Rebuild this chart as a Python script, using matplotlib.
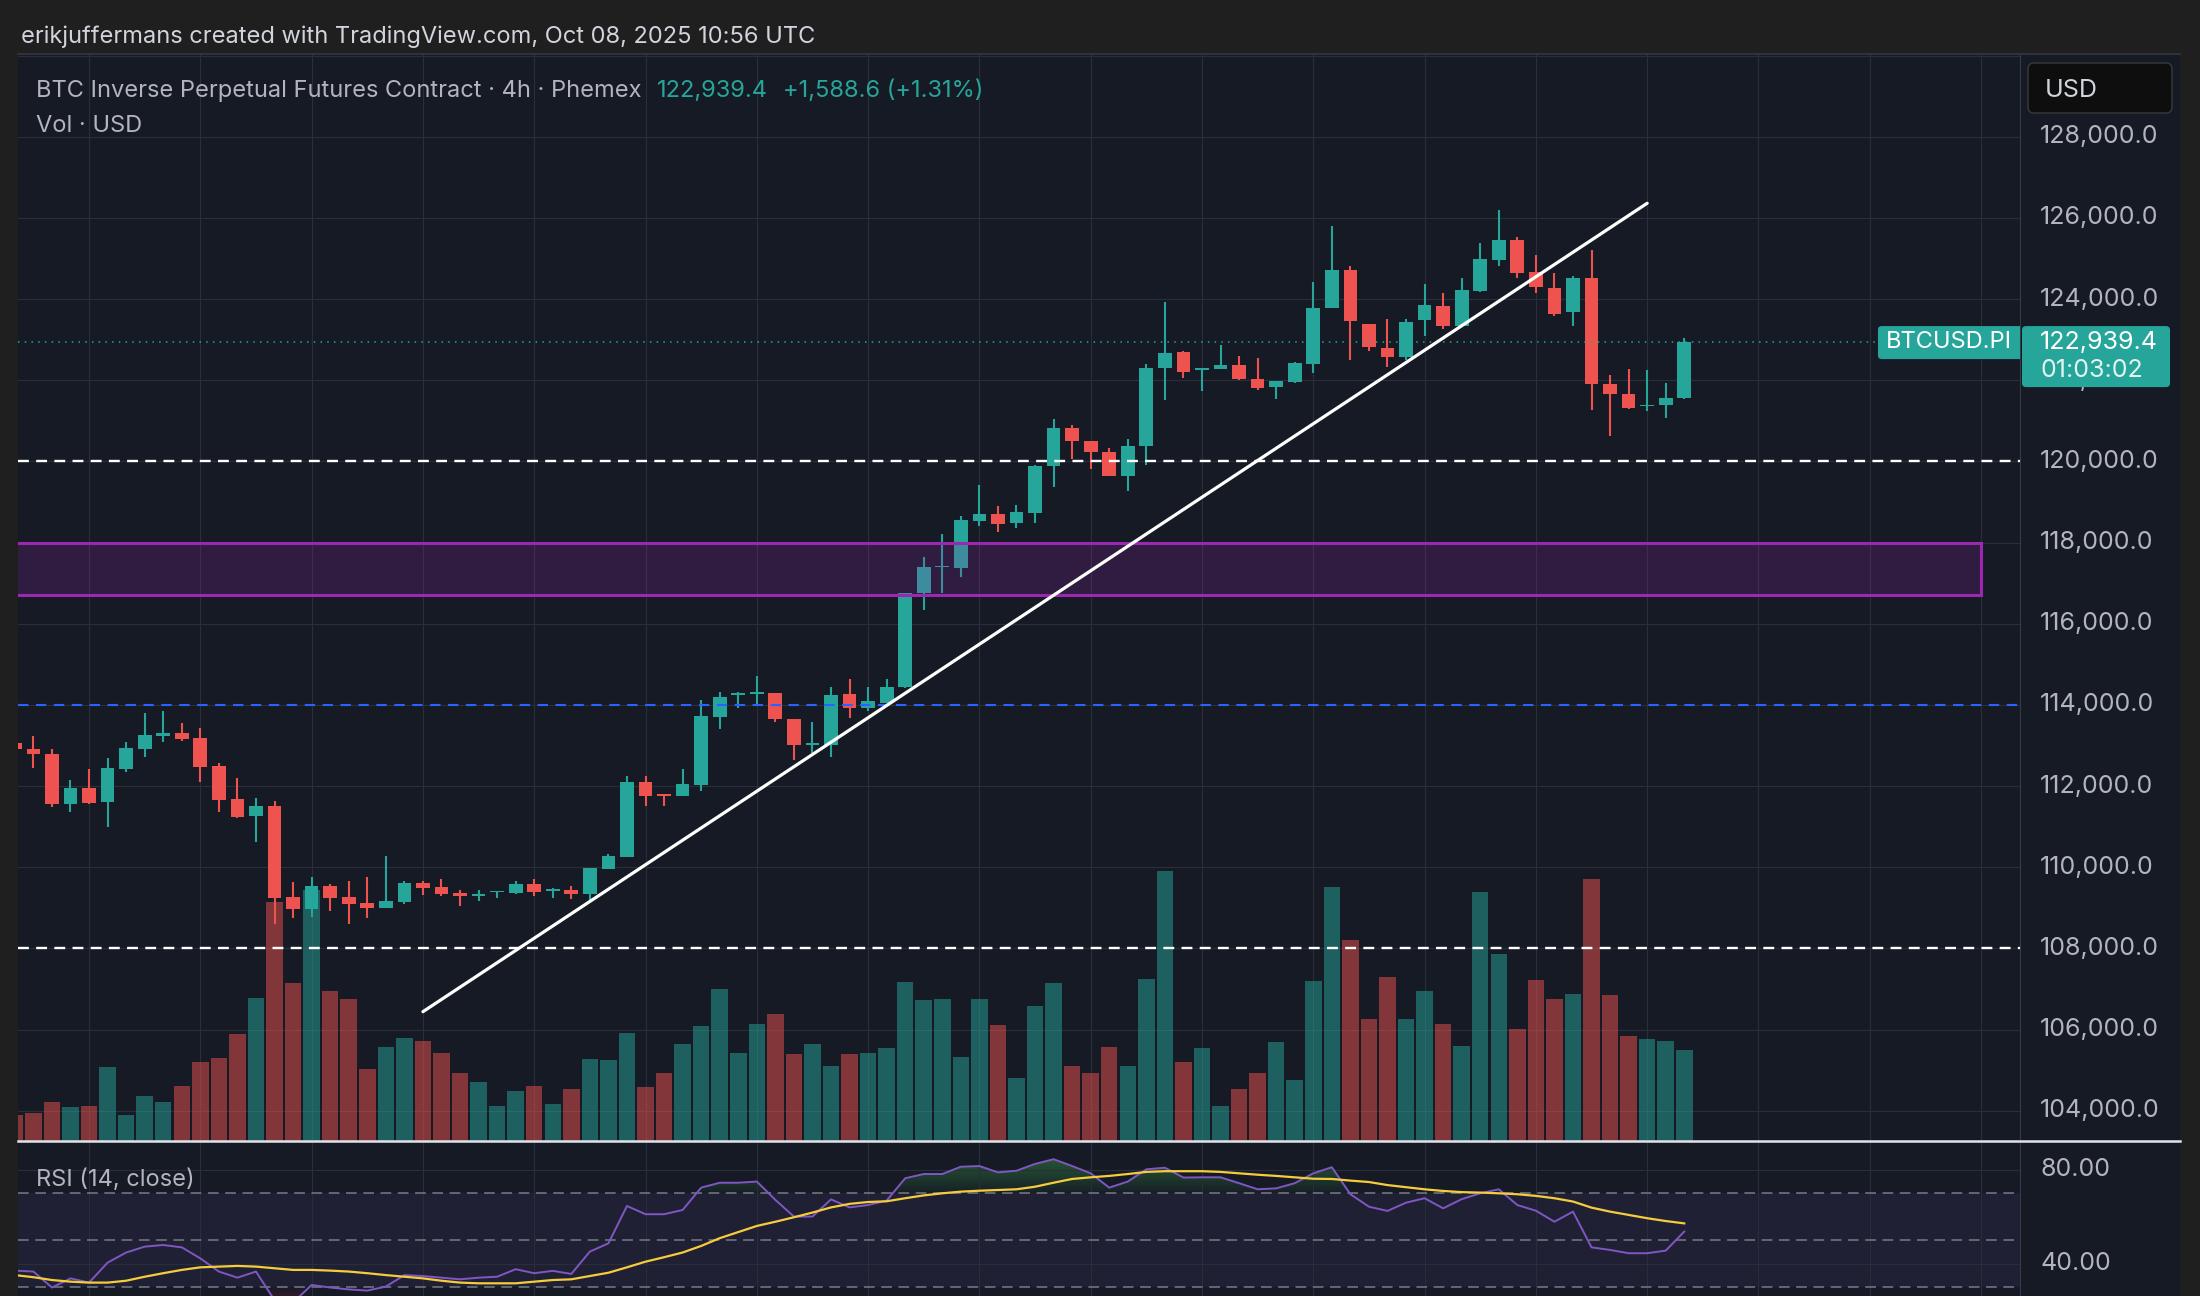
import matplotlib
matplotlib.use("Agg")
import matplotlib.pyplot as plt
from matplotlib.patches import Rectangle, FancyBboxPatch
from matplotlib.lines import Line2D
from matplotlib.transforms import Affine2D, Bbox, TransformedBbox
import numpy as np

plt.rcParams['font.family'] = ['Inter', 'DejaVu Sans']

# 4h candles (oldest first)
opens = [113050, 112920, 112800, 111570, 111940, 111600, 112430, 112920, 113230, 113310,
         113180, 112500, 111670, 111250, 111520, 109270, 108960, 109540, 109270, 109120,
         109000, 109150, 109600, 109510, 109360, 109280, 109380, 109360, 109580, 109410,
         109450, 109330, 109960, 110260, 112090, 111800, 111760, 112020, 113700, 114240,
         114260, 114290, 113660, 113020, 113020, 114270, 113930, 114050, 114430, 116750,
         117390, 117380, 118540, 118700, 118490, 118740, 119890, 120820, 120510, 120240,
         119630, 120370, 122300, 122700, 122250, 122280, 122370, 122020, 121840, 121950,
         122410, 123770, 124720, 123380, 122800, 122570, 123490, 123820, 123340, 124200,
         124970, 125460, 124660, 124270, 123670, 124520, 121900, 121670, 121360, 121390,
         121550]
highs = [113100, 113230, 112920, 112150, 112420, 112690, 113090, 113800, 113840, 113550,
         113430, 112560, 112200, 111700, 111640, 109630, 109760, 109590, 109670, 109760,
         110270, 109660, 109670, 109700, 109450, 109450, 109410, 109660, 109720, 109490,
         109530, 109980, 110330, 112250, 112240, 111800, 112410, 114130, 114320, 114320,
         114700, 114290, 113660, 113590, 114450, 114630, 114430, 114630, 116750, 117640,
         118210, 118660, 119420, 118900, 118930, 119920, 121050, 120900, 120510, 120330,
         120550, 122390, 123920, 122720, 122310, 122860, 122600, 122540, 121980, 122450,
         124430, 125810, 124810, 123380, 123500, 123520, 124370, 124160, 124520, 125380,
         126200, 125520, 125090, 124640, 124560, 125210, 122140, 122270, 122240, 121920,
         123050]
lows = [112850, 112450, 111490, 111370, 111560, 110980, 112340, 112720, 113090, 113110,
        112110, 111370, 111210, 110610, 108610, 108760, 108780, 108910, 108610, 108760,
        109000, 109090, 109310, 109290, 109050, 109170, 109230, 109330, 109290, 109230,
        109210, 109200, 109960, 110260, 111510, 111510, 111760, 111870, 113410, 113930,
        114000, 113570, 112630, 112820, 112710, 113670, 113860, 114050, 114410, 116350,
        116750, 117140, 118400, 118270, 118370, 118490, 119380, 120060, 119810, 119630,
        119260, 119920, 121510, 122050, 121730, 122280, 122000, 121760, 121530, 121940,
        122190, 123770, 122500, 122720, 122330, 122510, 123090, 123270, 123340, 124180,
        124810, 124530, 124140, 123570, 123340, 121260, 120620, 121280, 121240, 121080,
        121530]
closes = [112920, 112780, 111570, 111940, 111590, 112450, 112940, 113270, 113310, 113170,
          112470, 111650, 111240, 111520, 109250, 108960, 109540, 109250, 109100, 109000,
          109170, 109610, 109490, 109350, 109290, 109350, 109410, 109580, 109400, 109470,
          109330, 109980, 110280, 112090, 111760, 111760, 112040, 113730, 114190, 114290,
          114310, 113640, 113000, 113070, 114240, 113930, 114090, 114450, 116750, 117390,
          117400, 118560, 118700, 118460, 118750, 119890, 120820, 120490, 120220, 119650,
          120390, 122310, 122660, 122200, 122310, 122370, 122020, 121800, 121980, 122420,
          123780, 124720, 123460, 122830, 122570, 123440, 123850, 123340, 124220, 124990,
          125460, 124640, 124290, 123630, 124520, 121900, 121650, 121320, 121390, 121550,
          122939.4]
# volume (relative units)
volumes = [2.6, 2.8, 3.9, 3.4, 3.5, 7.4, 2.6, 4.5, 3.9, 5.5,
           7.9, 8.3, 10.7, 14.3, 23.9, 15.8, 25.1, 15.0, 14.2, 7.2,
           9.4, 10.3, 10.0, 8.8, 6.8, 5.9, 3.5, 5.0, 5.5, 3.7,
           5.2, 8.2, 8.1, 10.8, 5.4, 6.8, 9.7, 11.5, 15.2, 8.8,
           11.7, 12.7, 8.7, 9.7, 7.5, 8.7, 8.8, 9.3, 15.9, 14.1,
           14.2, 8.4, 14.2, 11.6, 6.3, 13.5, 15.8, 7.5, 6.8, 9.4,
           7.5, 16.2, 27.0, 7.9, 9.3, 3.5, 5.2, 6.8, 9.9, 6.1,
           16.0, 25.4, 20.1, 12.2, 16.4, 12.2, 15.0, 11.7, 9.5, 24.9,
           18.7, 11.2, 16.1, 14.2, 14.7, 26.2, 14.6, 10.5, 10.2, 10.0,
           9.1]
rsi = [37.1, 36.7, 29.9, 33.8, 32.0, 40.5, 44.8, 47.3, 48.0, 47.0,
       42.3, 36.7, 34.1, 36.7, 24.5, 23.5, 31.0, 29.9, 29.1, 28.6,
       30.3, 35.2, 34.8, 34.1, 33.4, 34.1, 34.5, 37.7, 36.0, 37.0,
       35.7, 45.2, 48.7, 64.6, 61.1, 61.1, 62.9, 72.4, 74.5, 74.5,
       75.0, 67.2, 60.1, 60.1, 67.4, 64.0, 65.0, 66.9, 76.4, 78.2,
       78.2, 81.3, 81.6, 78.9, 79.6, 82.5, 84.5, 81.6, 78.5, 72.4,
       75.0, 80.2, 80.9, 76.7, 76.8, 76.8, 74.3, 71.7, 72.1, 74.3,
       78.5, 81.1, 69.6, 64.3, 62.5, 66.0, 67.9, 63.6, 67.5, 70.0,
       71.7, 65.0, 62.6, 57.9, 62.2, 47.0, 45.9, 44.5, 44.5, 45.6,
       53.7]
rsi_ma = [35.2, 34.3, 33.1, 32.4, 32.0, 32.0, 32.8, 34.5, 36.0, 37.4,
          38.5, 38.8, 39.1, 38.8, 38.1, 37.4, 37.4, 37.1, 36.7, 36.0,
          35.2, 34.5, 33.8, 32.8, 32.0, 31.7, 31.7, 31.7, 32.4, 33.1,
          33.4, 34.8, 36.2, 38.5, 40.9, 42.8, 44.8, 47.6, 50.9, 53.5,
          56.1, 57.9, 59.8, 61.8, 64.0, 65.5, 66.3, 66.6, 67.9, 69.1,
          70.0, 70.7, 71.1, 71.4, 71.7, 72.8, 74.5, 76.1, 76.8, 77.4,
          78.2, 79.1, 79.4, 79.4, 79.4, 79.1, 78.5, 77.9, 77.4, 76.8,
          76.2, 76.1, 75.4, 74.8, 73.5, 72.6, 71.7, 71.0, 70.5, 70.3,
          70.0, 69.6, 68.9, 67.9, 66.5, 63.9, 62.2, 60.8, 59.4, 58.2,
          57.2]

header = "erikjuffermans created with TradingView.com, Oct 08, 2025 10:56 UTC"
title = "BTC Inverse Perpetual Futures Contract · 4h · Phemex"
last_price = 122939.4
last_text = "122,939.4"
change_text = "+1,588.6 (+1.31%)"
countdown = "01:03:02"
symbol = "BTCUSD.PI"
price_ticks = list(range(104000, 128001, 2000))
rsi_ticks = [80, 40]
white_levels = [120000, 108000]
blue_level = 114000
zone_low, zone_high, zone_end = 116700, 118000, 106.0
trend_x = [22.0, 88.0]
trend_y = [106440, 126360]

# colours
BG = '#161a25'
FRAME = '#1f1f1f'
GRID = '#2a2e39'
UP = '#26a69a'
DOWN = '#ef5350'
TXT = '#b2b5be'
FS_TXT = 17      # legend / header
FS_AX = 18       # price scale

# layout in pixels
W, H = 2200, 1296
PANE_L, PANE_R, SCALE_R = 18, 2020, 2180
MAIN_T, MAIN_B = 54, 1141
RSI_T, RSI_B = 1143, 1296
XLIM = (0.17, 108.1)
YLIM = (103254, 130038)
PX_USD = (YLIM[1] - YLIM[0]) / (MAIN_B - MAIN_T)   # dollars per pixel


def rect(l, t, r, b):
    return [l / W, 1 - b / H, (r - l) / W, (b - t) / H]


def bare(a):
    a.tick_params(length=0, labelleft=False, labelbottom=False)
    for s in a.spines.values():
        s.set_visible(False)


fig = plt.figure(figsize=(W / 100, H / 100), dpi=100, facecolor=FRAME)
PX = Affine2D().scale(1 / W, -1 / H).translate(0, 1) + fig.transFigure

o = np.array(opens)
c = np.array(closes)
x = np.arange(len(o))
cols = np.where(c >= o, UP, DOWN)

# grid layer
ax_grid = fig.add_axes(rect(PANE_L, MAIN_T, PANE_R, MAIN_B), facecolor=BG, zorder=0)
ax_grid.set_xlim(*XLIM)
ax_grid.set_ylim(*YLIM)
ax_grid.set_xticks(np.arange(4, 108, 6))
ax_grid.set_yticks(price_ticks + [130000])
ax_grid.grid(True, color=GRID, lw=0.8)
bare(ax_grid)

# volume layer
ax_vol = fig.add_axes(rect(PANE_L, MAIN_T, PANE_R, MAIN_B), facecolor='none', zorder=1)
ax_vol.bar(x, volumes, width=0.89, color=cols, alpha=0.5, linewidth=0)
ax_vol.set_xlim(*XLIM)
ax_vol.set_ylim(0, (MAIN_B - MAIN_T) / 10)
bare(ax_vol)

# candles and drawings
ax = fig.add_axes(rect(PANE_L, MAIN_T, PANE_R, MAIN_B), facecolor='none', zorder=2)
ax.set_xlim(*XLIM)
ax.set_ylim(*YLIM)
bare(ax)
ax.vlines(x, lows, highs, colors=cols, lw=1.5, zorder=2)
ax.bar(x, np.maximum(np.abs(c - o), 40), bottom=np.minimum(o, c), width=0.74,
       color=cols, linewidth=0, zorder=3)

ax.add_patch(Rectangle((-2, zone_low), zone_end + 2, zone_high - zone_low,
                       facecolor=(156 / 255, 39 / 255, 176 / 255, 0.2),
                       edgecolor='#9c27b0', lw=2.2, zorder=4))
for lvl in white_levels:
    ax.axhline(lvl, color='white', lw=1.7, ls=(0, (4.6, 3.1)), zorder=5)
ax.axhline(blue_level, color='#2962ff', lw=1.5, ls=(0, (5, 3.6)), zorder=5)
ax.plot(trend_x, trend_y, color='white', lw=2.3, solid_capstyle='round', zorder=6)

# last price line + symbol tag
tag_x = (1878 - 14.8) / 18.55
ax.plot([XLIM[0], tag_x], [last_price, last_price], color=UP, lw=1.1,
        ls=(0, (1, 3.4)), zorder=5)
ax.add_patch(FancyBboxPatch((tag_x, last_price - 17 * PX_USD), XLIM[1] - tag_x + 1, 33 * PX_USD,
                            boxstyle='round,pad=0,rounding_size=0.2',
                            mutation_aspect=PX_USD * 18.55,
                            facecolor=UP, edgecolor='none', zorder=7))
ax.text(tag_x + 0.45, last_price, symbol, color='white', fontsize=17,
        va='center', ha='left', zorder=8)

# price scale
ax_ps = fig.add_axes(rect(PANE_R, MAIN_T, SCALE_R, MAIN_B), facecolor=BG)
ax_ps.set_xlim(0, SCALE_R - PANE_R)
ax_ps.set_ylim(*YLIM)
bare(ax_ps)
ax_ps.spines['left'].set_visible(True)
ax_ps.spines['left'].set_color('#363a45')
box_bottom = last_price - 45 * PX_USD
for p in price_ticks:
    t = ax_ps.text(20, p, f'{p:,.1f}', color=TXT, fontsize=FS_AX, va='center', ha='left', zorder=3)
    if abs(p - last_price) < 1000:
        # mostly hidden behind the last-price box
        t.set_clip_box(TransformedBbox(Bbox([[0, YLIM[0]], [SCALE_R - PANE_R, box_bottom]]),
                                       ax_ps.transData))
        t.set_clip_on(True)
ax_ps.add_patch(FancyBboxPatch((2, box_bottom), 148, 61 * PX_USD,
                               boxstyle='round,pad=0,rounding_size=4',
                               mutation_aspect=PX_USD,
                               facecolor=UP, edgecolor='none', zorder=5))
ax_ps.text(20, last_price, last_text, color='white', fontsize=FS_AX, va='center', ha='left', zorder=6)
ax_ps.text(20, last_price - 28.2 * PX_USD, countdown, color='#e3f3f1', fontsize=FS_AX,
           va='center', ha='left', zorder=6)

# RSI pane
ax_r = fig.add_axes(rect(PANE_L, RSI_T, PANE_R, RSI_B), facecolor=BG)
ax_r.set_xlim(*XLIM)
ax_r.set_ylim(26.3, 91.4)
ax_r.set_xticks(np.arange(4, 108, 6))
ax_r.set_yticks(rsi_ticks)
ax_r.grid(True, color=GRID, lw=0.8)
bare(ax_r)
ax_r.axhspan(30, 70, color='#7e57c2', alpha=0.1, lw=0)
for lvl in (70, 50, 30):
    ax_r.axhline(lvl, color='#787b86', lw=1.1, ls=(0, (7, 4.3)))
r = np.array(rsi)
for t in range(0, 16):
    ax_r.fill_between(x, 70 + t, r, where=r > 70 + t, interpolate=True,
                      color='#4caf50', alpha=0.035, lw=0)
    ax_r.fill_between(x, 30 - t, r, where=r < 30 - t, interpolate=True,
                      color='#f23645', alpha=0.035, lw=0)
ax_r.plot(x, rsi, color='#7e57c2', lw=1.4)
ax_r.plot(x, rsi_ma, color='#f5cd3c', lw=1.6)

ax_rp = fig.add_axes(rect(PANE_R, RSI_T, SCALE_R, RSI_B), facecolor=BG)
ax_rp.set_xlim(0, SCALE_R - PANE_R)
ax_rp.set_ylim(26.3, 91.4)
bare(ax_rp)
ax_rp.spines['left'].set_visible(True)
ax_rp.spines['left'].set_color('#363a45')
for v in rsi_ticks:
    ax_rp.text(20, v, f'{v:.2f}', color=TXT, fontsize=FS_AX, va='center', ha='left')

# frame pieces
fig.add_artist(Line2D([PANE_L, SCALE_R], [1141, 1141], transform=PX, color='#e0e3eb', lw=1.8, zorder=10))
fig.add_artist(Line2D([PANE_L, SCALE_R], [MAIN_T, MAIN_T], transform=PX, color='#2f323c', lw=1.5, zorder=10))
fig.add_artist(FancyBboxPatch((2028, 63), 144, 50, boxstyle='round,pad=0,rounding_size=6',
                              transform=PX, facecolor='#0e0e0e', edgecolor='#3a3a3a',
                              lw=1.0, zorder=10))
fig.text(2045, 97, 'USD', transform=PX, color='#d1d4dc', fontsize=FS_AX, va='baseline', zorder=11)

# texts
fig.text(21, 43, header, transform=PX, color='#d1d4dc', fontsize=FS_TXT, va='baseline')
fig.text(36.5, 1186, 'RSI (14, close)', transform=PX, color=TXT, fontsize=FS_TXT, va='baseline')
fig.text(36.5, 131.5, 'Vol · USD', transform=PX, color=TXT, fontsize=FS_TXT, va='baseline')
rend = fig.canvas.get_renderer()
t1 = fig.text(36.5, 97.3, title, transform=PX, color=TXT, fontsize=FS_TXT, va='baseline')
x2 = t1.get_window_extent(renderer=rend).x1 + 15
t2 = fig.text(x2, 97.3, last_text, transform=PX, color=UP, fontsize=FS_TXT, va='baseline')
x3 = t2.get_window_extent(renderer=rend).x1 + 15
fig.text(x3, 97.3, change_text, transform=PX, color=UP, fontsize=FS_TXT, va='baseline')

fig.savefig('out.png', dpi=100, facecolor=FRAME)
